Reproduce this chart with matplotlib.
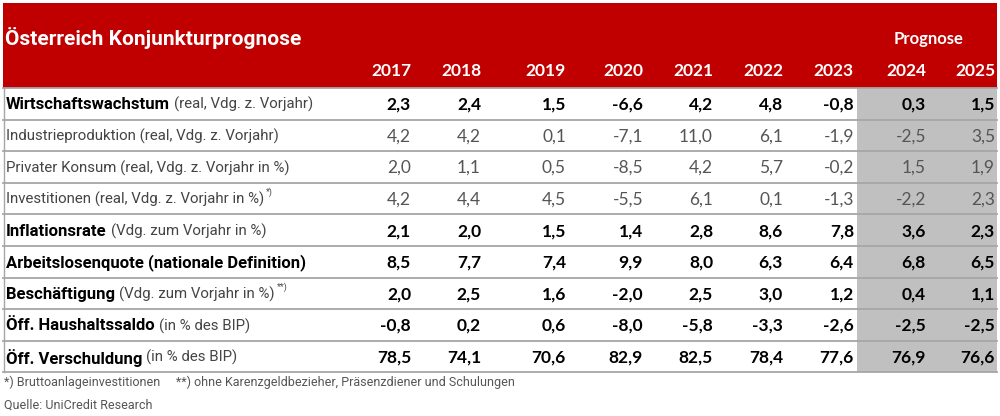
import matplotlib.pyplot as plt
from matplotlib.patches import Rectangle

# Daten
jahre = ["2017", "2018", "2019", "2020", "2021", "2022", "2023", "2024", "2025"]
label_fett = ["Wirtschaftswachstum", "", "", "", "Inflationsrate",
              "Arbeitslosenquote (nationale Definition)", "Beschäftigung",
              "Öff. Haushaltssaldo", "Öff. Verschuldung"]
label_normal = ["(real, Vdg. z. Vorjahr)", "Industrieproduktion (real, Vdg. z. Vorjahr)",
                "Privater Konsum (real, Vdg. z. Vorjahr in %)",
                "Investitionen (real, Vdg. z. Vorjahr in %)", "(Vdg. zum Vorjahr in %)",
                "", "(Vdg. zum Vorjahr in %)", "(in % des BIP)", "(in % des BIP)"]
fussnote_zeichen = ["", "", "", "*)", "", "", "**)", "", ""]

wirtschaftswachstum = [2.3, 2.4, 1.5, -6.6, 4.2, 4.8, -0.8, 0.3, 1.5]
industrieproduktion = [4.2, 4.2, 0.1, -7.1, 11.0, 6.1, -1.9, -2.5, 3.5]
privater_konsum = [2.0, 1.1, 0.5, -8.5, 4.2, 5.7, -0.2, 1.5, 1.9]
investitionen = [4.2, 4.4, 4.5, -5.5, 6.1, 0.1, -1.3, -2.2, 2.3]
inflationsrate = [2.1, 2.0, 1.5, 1.4, 2.8, 8.6, 7.8, 3.6, 2.3]
arbeitslosenquote = [8.5, 7.7, 7.4, 9.9, 8.0, 6.3, 6.4, 6.8, 6.5]
beschaeftigung = [2.0, 2.5, 1.6, -2.0, 2.5, 3.0, 1.2, 0.4, 1.1]
haushaltssaldo = [-0.8, 0.2, 0.6, -8.0, -5.8, -3.3, -2.6, -2.5, -2.5]
verschuldung = [78.5, 74.1, 70.6, 82.9, 82.5, 78.4, 77.6, 76.9, 76.6]

werte = [wirtschaftswachstum, industrieproduktion, privater_konsum, investitionen,
         inflationsrate, arbeitslosenquote, beschaeftigung, haushaltssaldo, verschuldung]

titel = "Österreich Konjunkturprognose"
fussnote = "*) Bruttoanlageinvestitionen     **) ohne Karenzgeldbezieher, Präsenzdiener und Schulungen"
quelle = "Quelle: UniCredit Research"

# Layout (Pixel)
ROT = "#c00000"
GRAU = "#c0c0c0"
LINIE = "#a6a6a6"
LABEL_FONT = ["Roboto", "DejaVu Sans"]
ZAHL_FONT = ["Lato", "DejaVu Sans"]
spalten_x = [411, 481, 566, 643, 713, 783, 854, 926, 995]
kopf_unten = 88
zeilen_h = 31.6
tabelle_unten = kopf_unten + zeilen_h * len(werte)

fig = plt.figure(figsize=(10, 4.16), dpi=100)
ax = fig.add_axes([0, 0, 1, 1])
ax.set_xlim(0, 1000)
ax.set_ylim(416, 0)
ax.axis("off")

# Kopf
ax.add_patch(Rectangle((3, 3), 994, kopf_unten - 3, color=ROT, lw=0))
ax.text(5, 38, titel, color="white", fontsize=15, fontweight="bold",
        family=LABEL_FONT, va="center", ha="left")
ax.text(929, 39, "Prognose", color="white", fontsize=12, fontweight="bold",
        family=ZAHL_FONT, va="center", ha="center")
for x, j in zip(spalten_x, jahre):
    ax.text(x, 71, j, color="white", fontsize=12.5, fontweight="bold",
            family=ZAHL_FONT, va="center", ha="right")

# Prognose-Schattierung
ax.add_patch(Rectangle((857, kopf_unten), 140, tabelle_unten - kopf_unten, color=GRAU, lw=0))

# Linien
for i in range(len(werte) + 1):
    y = kopf_unten + i * zeilen_h
    ax.plot([3, 997], [y, y], color=LINIE, lw=1.3)
ax.plot([3.5, 3.5], [kopf_unten, tabelle_unten], color=LINIE, lw=1.0)

# Zeilen
fig.canvas.draw()
inv = ax.transData.inverted()
for i, reihe in enumerate(werte):
    yc = kopf_unten + (i + 0.5) * zeilen_h + 1
    fett = label_fett[i] != ""
    x0 = 6
    if fett:
        t = ax.text(x0, yc, label_fett[i], fontsize=12, fontweight="bold",
                    family=LABEL_FONT, color="black", va="center", ha="left")
        bb = t.get_window_extent()
        x0 = inv.transform((bb.x1, bb.y0))[0] + 4
    if label_normal[i]:
        t2 = ax.text(x0, yc, label_normal[i], fontsize=10.8,
                     family=LABEL_FONT, color="#444444", va="center", ha="left")
        bb = t2.get_window_extent()
        x0 = inv.transform((bb.x1, bb.y0))[0]
    if fussnote_zeichen[i]:
        ax.text(x0 + 2, yc - 7, fussnote_zeichen[i], fontsize=6.5, family=LABEL_FONT,
                color="#4a4a4a", va="center", ha="left")
    for x, v in zip(spalten_x, reihe):
        s = f"{v:.1f}".replace(".", ",")
        if fett:
            ax.text(x, yc, s, fontsize=12.5, family=ZAHL_FONT, color="black",
                    fontweight="bold", va="center", ha="right")
        else:
            ax.text(x, yc, s, fontsize=12.5, family=ZAHL_FONT, color="#555555",
                    va="center", ha="right")

# Fußnoten
ax.text(4, 382, fussnote, fontsize=9, family=LABEL_FONT,
        color="#555555", va="center", ha="left")
ax.text(4, 405, quelle, fontsize=9, family=LABEL_FONT,
        color="#555555", va="center", ha="left")

fig.savefig("out.png", dpi=100)
